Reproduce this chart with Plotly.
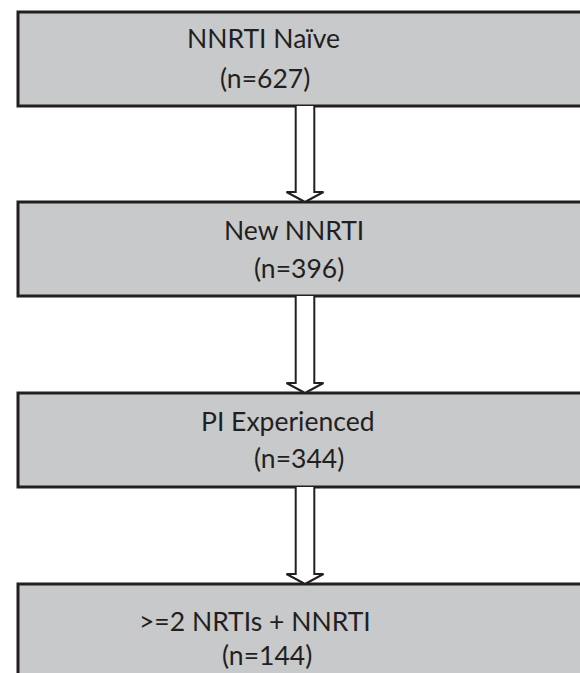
import plotly.graph_objects as go

# Data
stages = ["NNRTI Naïve", "New NNRTI", "PI Experienced", ">=2 NRTIs + NNRTI"]
counts = [627, 396, 344, 144]

# Layout / style (pixel coordinates)
W, H = 580, 673
box_tops = [12, 202, 393, 584]
box_h = 94
box_left = 18
box_right = 600
line1_x = [263.5, 294, 287.5, 255]
line2_x = [265, 299, 299, 267]
line1_dy = [26, 28, 28, 37]
line2_dy = [66, 66, 65, 71]
arrow_cx = 305
shaft_half = 9.3
head_half = 18.5
head_h = 10
fill = "#c8c9cb"
ink = "#231f20"
font_family = "Lato"
font_size = 26.5

fig = go.Figure()
shapes = []
annotations = []

for i, (stage, n) in enumerate(zip(stages, counts)):
    top = box_tops[i]
    shapes.append(dict(type="rect", xref="x", yref="y",
                       x0=box_left, x1=box_right, y0=top, y1=top + box_h,
                       fillcolor=fill, line=dict(color=ink, width=3), layer="below"))
    annotations.append(dict(x=line1_x[i], y=top + line1_dy[i], xref="x", yref="y",
                            text=stage, showarrow=False,
                            font=dict(family=font_family, size=font_size, color=ink)))
    annotations.append(dict(x=line2_x[i], y=top + line2_dy[i], xref="x", yref="y",
                            text=f"(n={n})", showarrow=False,
                            font=dict(family=font_family, size=font_size, color=ink)))

for i in range(len(stages) - 1):
    y0 = box_tops[i] + box_h
    y1 = box_tops[i + 1]
    hy = y1 - head_h
    xs = [arrow_cx - shaft_half, arrow_cx - shaft_half, arrow_cx - head_half, arrow_cx,
          arrow_cx + head_half, arrow_cx + shaft_half, arrow_cx + shaft_half]
    ys = [y0, hy, hy, y1, hy, hy, y0]
    fig.add_trace(go.Scatter(x=xs, y=ys, mode="lines", fill="toself", fillcolor="white",
                             line=dict(color=ink, width=2), hoverinfo="skip",
                             showlegend=False))

fig.update_layout(
    width=W, height=H, margin=dict(l=0, r=0, t=0, b=0),
    paper_bgcolor="white", plot_bgcolor="white",
    shapes=shapes, annotations=annotations,
    xaxis=dict(range=[0, W], visible=False, fixedrange=True),
    yaxis=dict(range=[H, 0], visible=False, fixedrange=True),
    showlegend=False,
)

fig.write_html("out.html", config={"displayModeBar": False},
               post_script="document.body.style.margin='0';document.body.style.overflow='hidden';")
